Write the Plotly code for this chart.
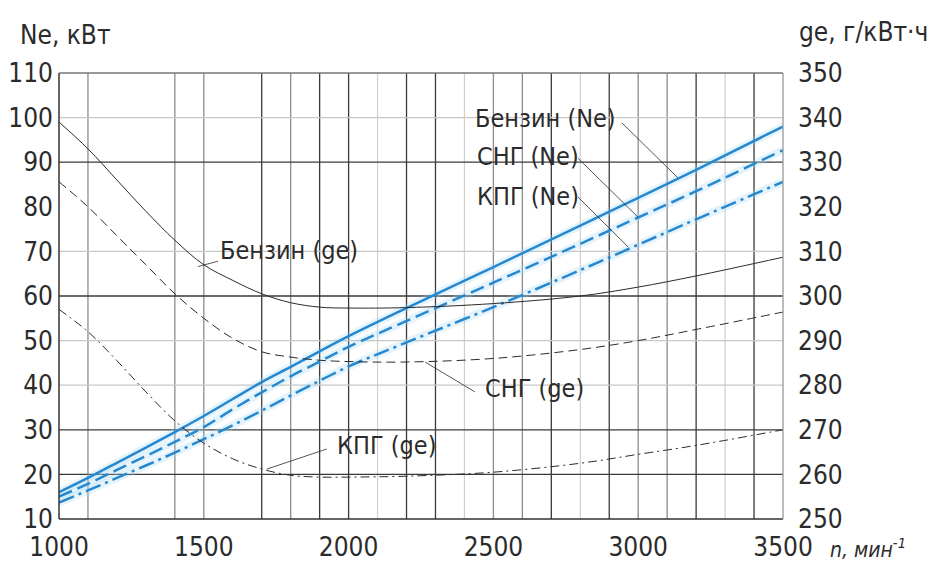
import plotly.graph_objects as go

# ---------------- data ----------------
rpm = [1000, 1100, 1200, 1300, 1400, 1500, 1600, 1700, 1800, 1900, 2000,
       2200, 2500, 2800, 3000, 3200, 3500]

ne_benzin = [16, 19.2, 22.6, 26, 29.5, 33.1, 36.9, 40.7, 44.1, 47.6, 51,
             57.3, 66.5, 75.8, 82, 88.3, 98]
ne_sng = [15, 17.9, 21, 24.1, 27.3, 30.6, 34.6, 38.4, 42, 45.3, 48.6,
          54.4, 63, 71.7, 77.6, 83.5, 92.7]
ne_kpg = [13.7, 16.4, 19.2, 22, 24.9, 27.9, 31, 34.3, 37.7, 41, 44.2,
          49.6, 57.5, 65.8, 71.5, 77.2, 85.6]

ge_benzin = [339, 333, 326, 319, 312.5, 307, 303.5, 300.5, 298.5, 297.5, 297.3,
             297.4, 298.3, 300, 302, 304.5, 308.7]
ge_sng = [325.6, 320, 313.5, 307, 300.5, 295, 290.5, 287.5, 286.3, 285.6, 285.3,
          285.2, 286, 288, 290, 292.5, 296.4]
ge_kpg = [297, 292, 285.5, 278.5, 272, 267, 263.5, 261.2, 259.8, 259.4, 259.4,
          259.6, 260.5, 262.5, 264.5, 266.5, 270]

x_ticks = [1000, 1500, 2000, 2500, 3000, 3500]
y_left_ticks = [10, 20, 30, 40, 50, 60, 70, 80, 90, 100, 110]
y_right_ticks = [250, 260, 270, 280, 290, 300, 310, 320, 330, 340, 350]

# grid layout (drawing aids)
grid_x_dark = [1700, 1900, 2000, 2200, 2300, 2700, 2900, 3200, 3400]
grid_x_mid = [1100, 1400, 1500, 1800, 2500, 2600, 3000, 3100]
grid_x_light = [2100, 2400, 2800, 3300]
grid_y_dark = [20, 30, 60, 90]
grid_y_light = [40, 50, 70, 100]

FONT = "Liberation Sans Narrow, DejaVu Sans Condensed, Arial Narrow, sans-serif"
BLUE = "rgb(38,136,206)"
INK = "#2b2b2b"

fig = go.Figure()

# halo under the blue lines
for ys in (ne_benzin, ne_sng, ne_kpg):
    fig.add_trace(go.Scatter(x=rpm, y=ys, mode="lines", yaxis="y",
                             line=dict(color="rgba(160,215,245,0.28)", width=8, shape="spline"),
                             hoverinfo="skip", showlegend=False))

fig.add_trace(go.Scatter(x=rpm, y=ne_benzin, mode="lines", name="Бензин (Ne)",
                         line=dict(color=BLUE, width=2.5, shape="spline")))
fig.add_trace(go.Scatter(x=rpm, y=ne_sng, mode="lines", name="СНГ (Ne)",
                         line=dict(color=BLUE, width=2.5, dash="14px,6px", shape="spline")))
fig.add_trace(go.Scatter(x=rpm, y=ne_kpg, mode="lines", name="КПГ (Ne)",
                         line=dict(color=BLUE, width=2.5, dash="16px,5px,3px,5px", shape="spline")))

fig.add_trace(go.Scatter(x=rpm, y=ge_benzin, mode="lines", name="Бензин (ge)", yaxis="y2",
                         line=dict(color=INK, width=1, shape="spline")))
fig.add_trace(go.Scatter(x=rpm, y=ge_sng, mode="lines", name="СНГ (ge)", yaxis="y2",
                         line=dict(color=INK, width=1, dash="9px,5px", shape="spline")))
fig.add_trace(go.Scatter(x=rpm, y=ge_kpg, mode="lines", name="КПГ (ge)", yaxis="y2",
                         line=dict(color=INK, width=1, dash="9px,4px,2px,4px", shape="spline")))

shapes = []
def vline(x, color, w):
    shapes.append(dict(type="line", xref="x", yref="paper", x0=x, x1=x, y0=0, y1=1,
                       line=dict(color=color, width=w), layer="below"))
def hline(y, color, w):
    shapes.append(dict(type="line", xref="paper", yref="y", x0=0, x1=1, y0=y, y1=y,
                       line=dict(color=color, width=w), layer="below"))
for v in grid_x_dark:
    vline(v, "#3a3a3a", 1.3)
for v in grid_x_mid:
    vline(v, "#8c8c8c", 1.3)
for v in grid_x_light:
    vline(v, "#cfcfcf", 1.2)
for v in grid_y_dark:
    hline(v, "#3a3a3a", 1.3)
for v in grid_y_light:
    hline(v, "#c8c8c8", 1.2)

# border
shapes.append(dict(type="line", xref="paper", yref="paper", x0=0, x1=0, y0=0, y1=1,
                   line=dict(color="#333", width=1.5)))
shapes.append(dict(type="line", xref="paper", yref="paper", x0=0, x1=1, y0=0, y1=0,
                   line=dict(color="#333", width=1.5)))
shapes.append(dict(type="line", xref="paper", yref="paper", x0=0, x1=1, y0=1, y1=1,
                   line=dict(color="#777", width=1.3)))
shapes.append(dict(type="line", xref="paper", yref="paper", x0=1, x1=1, y0=0, y1=1,
                   line=dict(color="#999", width=1.3)))

# leader lines (data coordinates on left axis)
leaders = [
    (2944, 98.8, 3137, 86.5),
    (2792, 90.9, 2999, 77.7),
    (2792, 82.2, 2965, 71.0),
    (2436, 38.5, 2264, 45.2),
    (1925, 25.7, 1718, 21.2),
    (1549, 67.8, 1480, 66.6),
]
for x0, y0, x1, y1 in leaders:
    shapes.append(dict(type="line", xref="x", yref="y", x0=x0, y0=y0, x1=x1, y1=y1,
                       line=dict(color=INK, width=0.8)))

labels = [
    ("Бензин (Ne)", 2430, 99.9),
    ("СНГ (Ne)", 2436, 91.2),
    ("КПГ (Ne)", 2436, 82.4),
    ("СНГ (ge)", 2464, 39.2),
    ("КПГ (ge)", 1953, 26.4),
    ("Бензин (ge)", 1549, 70.3),
]
annotations = []
for t, x, y in labels:
    annotations.append(dict(text=t, x=x, y=y, xref="x", yref="y", xanchor="left",
                            yanchor="middle", showarrow=False,
                            font=dict(family=FONT, size=25, color=INK)))

annotations += [
    dict(text="Ne, кВт", x=-0.0566, y=1.085, xref="paper", yref="paper",
         xanchor="left", yanchor="middle", showarrow=False,
         font=dict(family=FONT, size=26, color=INK)),
    dict(text="ge, г/кВт·ч", x=1.019, y=1.092, xref="paper", yref="paper",
         xanchor="left", yanchor="middle", showarrow=False,
         font=dict(family=FONT, size=26, color=INK)),
    dict(text="<i>n, мин</i><sup><i>-1</i></sup>", x=1.062, y=-0.065, xref="paper", yref="paper",
         xanchor="left", yanchor="middle", showarrow=False,
         font=dict(family=FONT, size=21, color=INK)),
]

tickfont = dict(family=FONT, size=26, color=INK)

fig.update_layout(
    width=951, height=565,
    margin=dict(l=59, r=168, t=73, b=46),
    paper_bgcolor="white", plot_bgcolor="white",
    showlegend=False,
    xaxis=dict(range=[1000, 3500], tickvals=x_ticks, showgrid=False, zeroline=False,
               showline=False, ticks="", tickfont=tickfont, ticklabelstandoff=10,
               automargin=False),
    yaxis=dict(range=[10, 110], tickvals=y_left_ticks, showgrid=False, zeroline=False,
               showline=False, ticks="", tickfont=tickfont, ticklabelstandoff=5,
               automargin=False),
    yaxis2=dict(range=[250, 350], tickvals=y_right_ticks, overlaying="y", side="right",
                showgrid=False, zeroline=False, showline=False, ticks="",
                tickfont=tickfont, ticklabelstandoff=14, automargin=False),
    shapes=shapes,
    annotations=annotations,
)

fig.write_html("out.html", config={"displayModeBar": False},
               post_script="document.body.style.margin='0';document.body.style.overflow='hidden';")
